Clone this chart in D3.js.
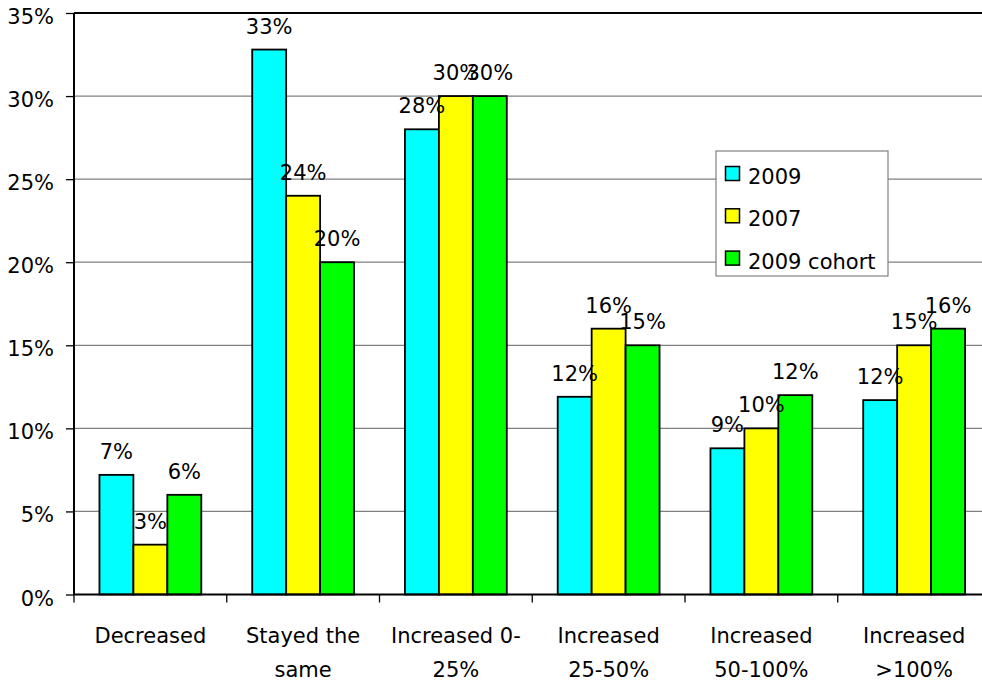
<!DOCTYPE html>
<html>
<head>
<meta charset="utf-8">
<script src="https://cdn.jsdelivr.net/npm/d3@7"></script>
<style>
  html, body { margin: 0; padding: 0; background: #fff; }
  svg { display: block; }
  text { font-family: "DejaVu Sans", sans-serif; fill: #000; }
</style>
</head>
<body>
<svg id="chart" width="982" height="684"></svg>
<script>
const categories = ["Decreased", "Stayed the same", "Increased 0-25%", "Increased 25-50%", "Increased 50-100%", "Increased >100%"];
const categoryLines = [["Decreased"], ["Stayed the", "same"], ["Increased 0-", "25%"], ["Increased", "25-50%"], ["Increased", "50-100%"], ["Increased", ">100%"]];
const seriesNames = ["2009", "2007", "2009 cohort"];
const values2009 = [0.072, 0.328, 0.280, 0.119, 0.088, 0.117];
const values2007 = [0.030, 0.240, 0.300, 0.160, 0.100, 0.150];
const values2009cohort = [0.060, 0.200, 0.300, 0.150, 0.120, 0.160];
const seriesColors = ["#00FFFF", "#FFFF00", "#00FF00"];
const yTicks = [0, 0.05, 0.10, 0.15, 0.20, 0.25, 0.30, 0.35];

const seriesValues = [values2009, values2007, values2009cohort];

const svg = d3.select("#chart");
const pLeft = 74, pRight = 990.5, pTop = 13, pBottom = 594.5;
const FS = 21;

const y = d3.scaleLinear().domain([0, 0.35]).range([pBottom, pTop]);
const xCat = d3.scaleBand().domain(categories).range([pLeft, pRight]).padding(0);
const x0 = d3.scaleBand().domain(categories).range([pLeft, pRight]).paddingInner(1/3).paddingOuter(1/6);
const x1 = d3.scaleBand().domain(seriesNames).range([0, x0.bandwidth()]).padding(0);

// gridlines
svg.append("g").selectAll("line").data(yTicks.filter(t => t > 0 && t < 0.35)).join("line")
  .attr("x1", pLeft).attr("x2", 982)
  .attr("y1", d => y(d)).attr("y2", d => y(d))
  .attr("stroke", "#808080").attr("stroke-width", 1.2);
// top border
svg.append("line").attr("x1", pLeft).attr("x2", 982).attr("y1", y(0.35)).attr("y2", y(0.35))
  .attr("stroke", "#000").attr("stroke-width", 2);

// y axis
const yAxis = d3.axisLeft(y).tickValues(yTicks).tickFormat(d3.format(".0%")).tickSize(8).tickPadding(12);
const yg = svg.append("g").attr("transform", `translate(${pLeft},0)`).call(yAxis);
yg.select(".domain").remove();
yg.selectAll(".tick line").attr("stroke", "#000").attr("stroke-width", 1.3);
yg.selectAll(".tick text").attr("font-size", FS).attr("font-family", "DejaVu Sans").attr("dy", "0.5em").attr("fill", "#000");
svg.append("line").attr("x1", pLeft).attr("x2", pLeft).attr("y1", pTop).attr("y2", pBottom)
  .attr("stroke", "#000").attr("stroke-width", 2);

// bars
const groups = svg.append("g").selectAll("g").data(categories).join("g")
  .attr("transform", d => `translate(${x0(d)},0)`);
groups.selectAll("rect").data((c, i) => seriesNames.map((s, j) => ({s, j, v: seriesValues[j][i]}))).join("rect")
  .attr("x", d => x1(d.s)).attr("width", x1.bandwidth())
  .attr("y", d => y(d.v)).attr("height", d => pBottom - y(d.v))
  .attr("fill", d => seriesColors[d.j]).attr("stroke", "#000").attr("stroke-width", 1.8);

// data labels
groups.selectAll("text").data((c, i) => seriesNames.map((s, j) => ({s, j, v: seriesValues[j][i]}))).join("text")
  .attr("x", d => x1(d.s) + x1.bandwidth() / 2)
  .attr("y", d => y(d.v) - 16)
  .attr("text-anchor", "middle").attr("font-size", FS)
  .text(d => d3.format(".0%")(d.v));

// x axis
svg.append("line").attr("x1", pLeft - 1).attr("x2", 982).attr("y1", pBottom).attr("y2", pBottom)
  .attr("stroke", "#000").attr("stroke-width", 2);
const bounds = categories.map(c => xCat(c)).concat([xCat(categories[categories.length - 1]) + xCat.bandwidth()]);
svg.append("g").selectAll("line").data(bounds).join("line")
  .attr("x1", d => d).attr("x2", d => d).attr("y1", pBottom).attr("y2", pBottom + 8)
  .attr("stroke", "#000").attr("stroke-width", 1.3);
const catText = svg.append("g").selectAll("text").data(categories).join("text")
  .attr("x", d => xCat(d) + xCat.bandwidth() / 2)
  .attr("y", 643)
  .attr("text-anchor", "middle").attr("font-size", FS);
catText.selectAll("tspan").data((d, i) => categoryLines[i]).join("tspan")
  .attr("x", function() { return d3.select(this.parentNode).attr("x"); })
  .attr("dy", (d, k) => k === 0 ? 0 : 33.5)
  .text(d => d);

// legend
const lg = svg.append("g").attr("transform", "translate(716,151)");
lg.append("rect").attr("width", 172).attr("height", 125).attr("fill", "#fff").attr("stroke", "#808080").attr("stroke-width", 1.2);
const items = lg.selectAll("g").data(seriesNames).join("g")
  .attr("transform", (d, i) => `translate(0,${i * 42.3})`);
items.append("rect").attr("x", 9.5).attr("y", 15.5).attr("width", 14).attr("height", 14)
  .attr("fill", (d, i) => seriesColors[i]).attr("stroke", "#000").attr("stroke-width", 1.5);
items.append("text").attr("x", 32).attr("y", 33).attr("font-size", FS).text(d => d);
</script>
</body>
</html>
